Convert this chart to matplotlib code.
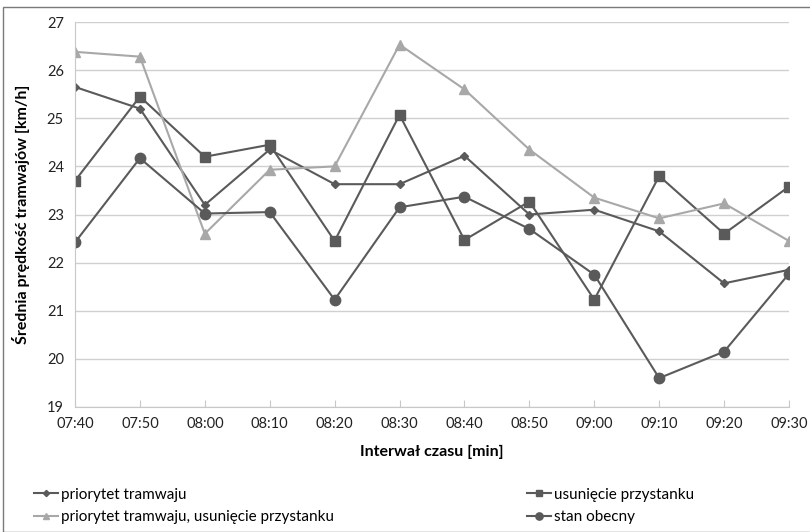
#!/usr/bin/env python3

import matplotlib.pyplot as plt
from matplotlib.patches import Rectangle

plt.rcParams["font.family"] = ["Lato", "DejaVu Sans"]

czas = ["07:40", "07:50", "08:00", "08:10", "08:20", "08:30",
        "08:40", "08:50", "09:00", "09:10", "09:20", "09:30"]

priorytet = [25.65, 25.2, 23.2, 24.35, 23.63, 23.63,
             24.22, 23.0, 23.1, 22.65, 21.57, 21.85]
usuniecie = [23.7, 25.45, 24.2, 24.45, 22.45, 25.07,
             22.47, 23.27, 21.23, 23.8, 22.6, 23.58]
priorytet_usuniecie = [26.38, 26.28, 22.6, 23.93, 24.0, 26.53,
                       25.6, 24.35, 23.35, 22.92, 23.23, 22.45]
stan_obecny = [22.42, 24.17, 23.02, 23.05, 21.23, 23.15,
               23.37, 22.7, 21.75, 19.6, 20.15, 21.77]

DARK = "#5a5a5a"
LIGHT = "#a8a8a8"

fig = plt.figure(figsize=(8.1, 5.32), dpi=100)
ax = fig.add_axes([75 / 810, 1 - 407 / 532, 714 / 810, 385 / 532])

x = list(range(len(czas)))
ax.plot(x, priorytet, color=DARK, marker="D", markersize=4.5, lw=1.5,
        label="priorytet tramwaju")
ax.plot(x, usuniecie, color=DARK, marker="s", markersize=6.5, lw=1.5,
        label="usunięcie przystanku")
ax.plot(x, priorytet_usuniecie, color=LIGHT, marker="^", markersize=7, lw=1.5,
        label="priorytet tramwaju, usunięcie przystanku")
ax.plot(x, stan_obecny, color=DARK, marker="o", markersize=7.5, lw=1.5,
        label="stan obecny")

ax.set_xlim(0, len(czas) - 1)
ax.set_ylim(19, 27)
ax.set_yticks(range(19, 28))
ax.set_xticks(x)
ax.set_xticklabels(czas)
ax.yaxis.grid(True, color="#d0d0d0", lw=1)
ax.set_axisbelow(True)

for side in ["top", "right"]:
    ax.spines[side].set_visible(False)
for side in ["left", "bottom"]:
    ax.spines[side].set_color("#c8c8c8")
ax.tick_params(axis="both", colors="#c8c8c8", labelcolor="#222222",
               labelsize=10.5, length=5)
ax.tick_params(axis="y", length=0, pad=8)
ax.tick_params(axis="x", direction="in", pad=7)

ax.set_xlabel("Interwał czasu [min]", fontsize=11.5, fontweight="bold",
              labelpad=10)
ax.set_ylabel("Średnia prędkość tramwajów [km/h]", fontsize=11.5,
              fontweight="bold", labelpad=12)

handles, labels = ax.get_legend_handles_labels()
order = [0, 2, 1, 3]
fig.legend([handles[i] for i in order], [labels[i] for i in order],
           loc="upper left", bbox_to_anchor=(20 / 810, 1 - 474 / 532),
           ncol=2, frameon=False, fontsize=11, handlelength=1.6,
           handletextpad=0.2, columnspacing=12.6, markerscale=0.7,
           labelspacing=0.55)

# outer frame of the chart area
fig.patches.append(Rectangle((3 / 810, 0), 1, 1 - 7 / 532, transform=fig.transFigure,
                             fill=False, edgecolor="#7a7a7a", lw=1))

plt.savefig("out.png", dpi=100)
